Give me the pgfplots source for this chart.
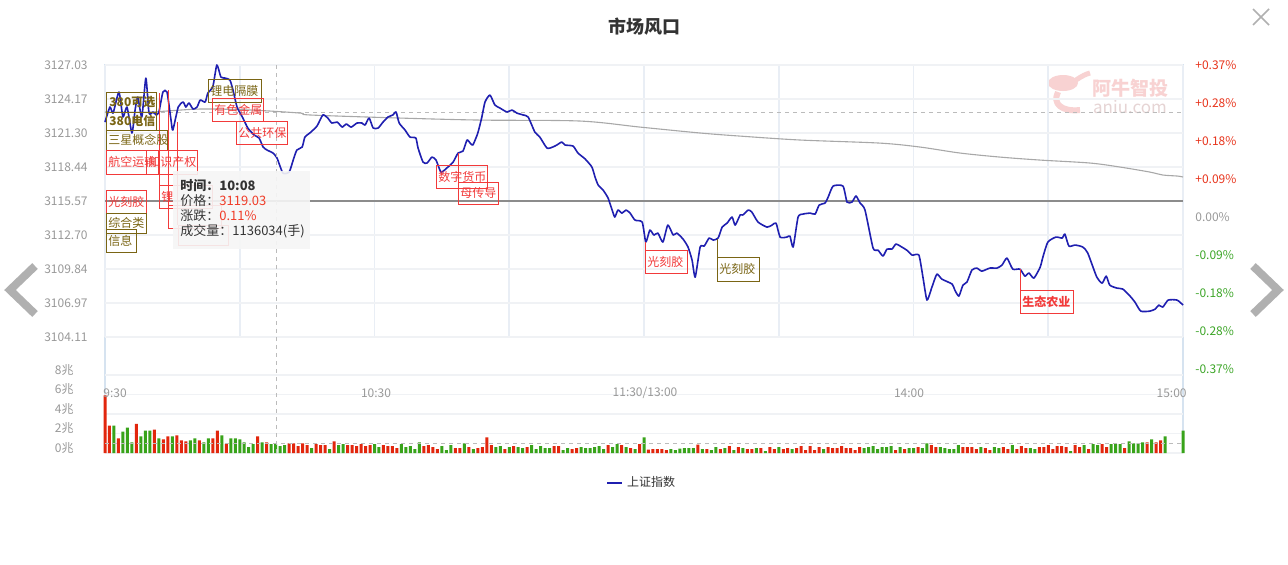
\documentclass[border=0pt]{standalone}
\usepackage{pgfplots}
\pgfplotsset{compat=1.18}
\usepackage{fontspec}
\setmainfont{Noto Sans CJK SC}
\definecolor{axistext}{HTML}{999999}
\definecolor{titlec}{HTML}{333333}
\definecolor{gridh}{HTML}{F0F2F5}
\definecolor{gridv}{HTML}{E9EEF5}
\definecolor{framec}{HTML}{D6E3F0}
\definecolor{priceblue}{HTML}{1F1FB0}
\definecolor{avgc}{HTML}{A8A8A8}
\definecolor{prevc}{HTML}{8C8C8C}
\definecolor{crossc}{HTML}{BBBBBB}
\definecolor{redbar}{HTML}{E2260D}
\definecolor{greenbar}{HTML}{38A31A}
\definecolor{annred}{HTML}{F23A3A}
\definecolor{annolive}{HTML}{7A6514}
\definecolor{posred}{HTML}{E8341C}
\definecolor{neggreen}{HTML}{3DA628}
\definecolor{tipbg}{HTML}{F6F6F6}
\definecolor{tiptext}{HTML}{333333}
\definecolor{tipred}{HTML}{F03C28}
\definecolor{wmpink}{HTML}{F8D2D2}
\definecolor{wmgray}{HTML}{E6D4D4}
\definecolor{navc}{HTML}{B0B0B0}
\newcommand\tickfont{\fontsize{6}{7}\selectfont}
\newcommand\annfont{\fontsize{6}{7}\selectfont}
\newcommand\tipfont{\fontsize{6.5}{7.5}\selectfont}
\begin{document}
\begin{tikzpicture}[x=0.5pt,y=-0.5pt]
\useasboundingbox (0,0) rectangle (1288,564);
\fill[white] (0,0) rectangle (1288,564);

% title
\node[font=\fontsize{9}{10}\selectfont\bfseries, text=titlec] at (644,27) {市场风口};

% watermark
\fill[wmpink] (1063,83) ellipse (15 and 8);
\draw[wmpink, line width=2.5pt] (1076,80) .. controls (1082,76) and (1086,74) .. (1090,73);
\draw[wmpink, line width=3pt] (1058,92) .. controls (1052,104) and (1062,112) .. (1080,110);
\node[font=\fontsize{9.5}{10}\selectfont\bfseries, text=wmpink] at (1130,88) {阿牛智投};
\node[font=\fontsize{8.5}{9}\selectfont, text=wmgray] at (1130,107) {aniu.com};

% frame
\draw[framec, line width=0.6pt] (105,453) -- (105,65) -- (1183,65) -- (1183,453);
\draw[framec, line width=1pt] (105,375) -- (1183,375);
\draw[framec, line width=0.6pt] (105,453) -- (1183,453);

% price axis
\begin{axis}[
  at={(52.5pt,-168.5pt)}, anchor=south west, scale only axis,
  width=539pt, height=136pt,
  xmin=0, xmax=240, ymin=3104.11, ymax=3127.03,
  clip=false,
  axis line style={draw=none},
  tick style={draw=none}, major tick length=0pt,
  xtick={0,30,...,240}, xticklabels={},
  ytick={3104.11,3106.97,3109.84,3112.70,3115.57,3118.44,3121.30,3124.17,3127.03},
  yticklabels={3104.11,3106.97,3109.84,3112.70,3115.57,3118.44,3121.30,3124.17,3127.03},
  yticklabel style={font=\tickfont, text=axistext, inner sep=0pt, xshift=-8.5pt},
  xmajorgrids, ymajorgrids,
  x grid style={gridv, line width=0.9pt},
  y grid style={gridh, line width=0.6pt},
  legend style={at={(0.499,-0.537)}, anchor=center, draw=none, fill=none,
    font=\tickfont, text=titlec, inner sep=0pt},
  legend cell align=left,
  legend image code/.code={\draw[#1] (0pt,0pt) -- (7.5pt,0pt);},
]
\addplot[forget plot, prevc, line width=0.6pt] coordinates {(0,3115.57) (240,3115.57)};
\addplot[forget plot, crossc, line width=0.5pt, dash pattern=on 2pt off 2pt] coordinates {(0,3123.07) (240,3123.07)};
\addplot[forget plot, avgc, line width=0.55pt, smooth] coordinates {
(0,3123.07) (10,3123.07) (21.1,3123.32) (32.3,3123.24) (43.4,3122.98) (45.6,3122.82) (65.7,3122.56) (83.5,3122.39) (105.7,3122.31) (119.1,3121.80) (132.5,3121.30) (141.4,3121.04) (154.7,3120.71) (172.5,3120.45) (181.4,3120.12) (190.4,3119.61) (199.3,3119.27) (208.2,3119.02) (219.3,3118.77) (226.0,3118.43) (232.6,3118.01) (235.5,3117.76) (238.9,3117.67) (240,3117.59)};
\addplot[priceblue, line width=0.8pt, smooth, tension=0.35, line join=round] coordinates {
(0,3122.22) (1.1,3123.49) (1.8,3122.98) (3.1,3124.75) (4.0,3122.65) (4.9,3123.49) (6.0,3121.30) (6.7,3123.24) (7.3,3124.33) (8.2,3122.65) (9.1,3125.93) (9.8,3122.98) (10.7,3123.07) (11.4,3122.82) (12.0,3123.07) (12.9,3124.75) (13.8,3124.75) (14.7,3122.39) (15.1,3121.55) (16.3,3123.49) (17.4,3123.91) (18.0,3123.49) (18.7,3123.83) (19.6,3123.32) (20.5,3123.49) (21.2,3124.08) (22.3,3123.91) (22.9,3124.67) (24.0,3125.18) (24.9,3127.03) (25.8,3126.02) (26.7,3125.93) (27.8,3125.77) (28.5,3124.92) (29.4,3123.49) (30.7,3122.56) (31.8,3121.72) (33.2,3121.13) (34.3,3120.88) (35.2,3120.12) (36.1,3119.86) (37.4,3119.61) (38.3,3119.19) (39.6,3117.93) (41.0,3118.01) (41.9,3119.02) (42.7,3119.86) (43.9,3120.12) (44.5,3120.96) (45.6,3121.30) (47.2,3121.89) (48.5,3122.82) (49.6,3122.56) (50.5,3122.14) (51.7,3122.22) (52.8,3121.80) (53.7,3122.06) (54.8,3121.80) (56.1,3122.14) (57.2,3122.14) (57.9,3121.97) (58.8,3122.56) (59.7,3121.72) (60.8,3121.72) (61.9,3122.22) (63.0,3122.65) (64.1,3122.82) (64.8,3123.07) (65.5,3122.14) (66.8,3121.55) (67.9,3120.96) (69.2,3120.88) (69.7,3120.03) (70.8,3118.85) (71.7,3118.77) (72.8,3119.27) (73.7,3119.02) (74.8,3118.01) (76.1,3118.35) (77.5,3118.85) (78.6,3119.61) (79.7,3119.78) (80.6,3120.71) (81.3,3120.45) (81.9,3120.29) (83.0,3121.30) (83.9,3122.65) (84.6,3123.91) (85.7,3124.50) (86.8,3123.66) (87.9,3123.41) (89.5,3123.07) (90.6,3123.24) (91.7,3122.98) (93.1,3122.82) (94.2,3122.65) (95.7,3121.38) (96.8,3120.96) (98.4,3120.03) (99.7,3120.12) (100.6,3120.29) (101.7,3120.54) (102.4,3120.29) (104.2,3120.20) (105.3,3119.61) (106.9,3119.11) (108.4,3118.43) (109.1,3117.59) (109.8,3116.91) (110.9,3116.49) (112.0,3115.82) (112.9,3114.81) (113.5,3114.22) (114.2,3114.81) (115.1,3114.55) (116.0,3114.81) (116.9,3114.55) (118.0,3113.96) (119.6,3113.79) (120.4,3112.11) (121.3,3113.12) (122.2,3112.70) (123.1,3112.87) (124.2,3112.11) (125.3,3113.54) (126.5,3112.70) (127.3,3112.87) (128.7,3112.36) (129.8,3111.69) (130.7,3110.59) (131.4,3109.16) (132.5,3111.69) (133.4,3111.77) (134.5,3112.45) (135.4,3112.28) (136.5,3112.45) (137.4,3113.37) (138.5,3113.71) (139.6,3114.22) (140.3,3113.54) (141.4,3114.39) (142.0,3114.39) (143.2,3114.81) (144.0,3114.64) (145.4,3113.79) (147.4,3113.37) (148.5,3113.54) (149.4,3113.71) (150.3,3112.53) (151.8,3112.53) (152.5,3112.61) (153.2,3111.69) (154.3,3114.22) (155.4,3114.47) (157.0,3114.55) (158.1,3114.47) (159.0,3115.23) (160.3,3115.40) (161.0,3115.90) (162.1,3116.83) (164.3,3116.83) (165.2,3115.48) (166.3,3115.48) (167.2,3115.99) (168.1,3115.40) (169.2,3114.81) (171.0,3111.60) (172.1,3111.43) (173.2,3110.93) (174.1,3111.52) (175.2,3111.52) (176.1,3111.94) (177.4,3111.69) (178.5,3111.43) (179.7,3111.01) (181.2,3111.01) (182.1,3109.16) (183.0,3107.22) (184.1,3108.31) (185.2,3109.41) (186.3,3108.99) (188.6,3108.57) (189.2,3108.06) (190.1,3107.56) (191.0,3108.48) (191.9,3108.74) (193.0,3109.75) (194.1,3109.92) (195.2,3109.66) (197.0,3109.92) (198.6,3109.92) (199.7,3110.17) (200.8,3110.76) (202.1,3109.83) (203.7,3109.83) (204.8,3109.24) (205.7,3109.50) (206.8,3109.07) (208.2,3110.00) (208.8,3110.84) (209.9,3112.11) (211.7,3112.53) (213.1,3112.45) (213.7,3112.78) (214.6,3111.77) (216.0,3111.86) (217.7,3111.69) (218.8,3111.18) (220.8,3109.16) (222.0,3108.65) (222.9,3109.24) (223.7,3108.48) (225.3,3108.23) (226.6,3108.15) (228.2,3107.56) (229.3,3107.05) (230.6,3106.29) (232.6,3106.29) (233.8,3106.46) (234.6,3106.80) (235.5,3106.63) (236.7,3107.22) (238.7,3107.22) (240,3106.80)};
\addlegendentry{上证指数}
\end{axis}

% right percentage axis
\begin{axis}[
  at={(52.5pt,-184.5pt)}, anchor=south west, scale only axis,
  width=539pt, height=152pt,
  xmin=0, xmax=240, ymin=-0.37, ymax=0.37,
  axis line style={draw=none},
  tick style={draw=none}, major tick length=0pt,
  xtick=\empty,
  ytick={-0.37,-0.2775,-0.185,-0.0925,0,0.0925,0.185,0.2775,0.37},
  yticklabels={{\textcolor{neggreen}{-0.37\%}},{\textcolor{neggreen}{-0.28\%}},{\textcolor{neggreen}{-0.18\%}},{\textcolor{neggreen}{-0.09\%}},{\textcolor{axistext}{0.00\%}},{\textcolor{posred}{+0.09\%}},{\textcolor{posred}{+0.18\%}},{\textcolor{posred}{+0.28\%}},{\textcolor{posred}{+0.37\%}}},
  yticklabel pos=right,
  yticklabel style={font=\tickfont, inner sep=0pt, anchor=west, xshift=6pt},
]
\addplot[draw=none, forget plot] coordinates {(0,0) (240,0)};
\end{axis}

% volume axis
\begin{axis}[
  at={(52.5pt,-226.5pt)}, anchor=south west, scale only axis,
  width=539pt, height=39pt,
  xmin=0, xmax=240, ymin=0, ymax=8,
  clip=false,
  axis line style={draw=none},
  tick style={draw=none}, major tick length=0pt,
  xtick=\empty,
  ytick={0,2,4,6,8},
  yticklabels={0兆,2兆,4兆,6兆,8兆},
  yticklabel style={font=\tickfont, text=axistext, inner sep=0pt, xshift=-15.5pt, yshift=2.5pt},
  ymajorgrids,
  y grid style={gridh, line width=0.6pt},
]
\addplot[ybar, bar width=1.5pt, bar shift=0pt, fill=redbar, draw=none] table[row sep=\\] {
x y\\
0 5.9\\ 1 2.8\\ 3 1.5\\ 7 3.0\\ 11 2.4\\ 13 1.4\\ 14 1.7\\ 16 1.8\\ 17 1.3\\ 18 1.2\\ 21 1.3\\ 24 1.5\\ 25 2.3\\ 27 0.9\\ 34 1.7\\ 36 1.1\\ 41 1.0\\ 42 1.0\\ 43 0.7\\ 44 1.0\\ 45 0.8\\ 47 0.9\\ 48 0.8\\ 49 0.8\\ 51 1.2\\ 54 0.8\\ 55 0.8\\ 56 0.7\\ 57 0.9\\ 58 0.7\\ 59 0.8\\ 62 0.8\\ 63 0.7\\ 64 0.7\\ 65 0.5\\ 71 0.7\\ 72 0.8\\ 73 0.6\\ 74 0.4\\ 78 0.5\\ 79 0.5\\ 81 0.6\\ 83 0.5\\ 84 0.6\\ 85 1.6\\ 86 0.8\\ 89 0.4\\ 91 0.7\\ 94 0.6\\ 100 0.7\\ 101 0.7\\ 104 0.4\\ 105 0.5\\ 112 0.8\\ 115 0.8\\ 117 0.5\\ 119 0.9\\
121 0.35\\ 122 0.4\\ 123 0.4\\ 124 0.4\\ 125 0.3\\ 132 0.86\\ 134 0.4\\ 137 0.4\\ 139 0.7\\ 141 0.6\\ 143 0.4\\ 144 0.4\\ 146 0.5\\ 148 0.6\\ 149 0.4\\ 151 0.4\\ 152 0.5\\ 154 0.5\\ 155 0.7\\ 156 0.3\\ 157 0.7\\ 158 0.3\\ 159 0.6\\ 161 0.6\\ 162 0.5\\ 163 0.5\\ 164 0.7\\ 165 0.5\\ 166 0.5\\ 167 0.3\\ 168 0.6\\ 176 0.3\\ 178 0.4\\ 181 0.6\\ 184 0.8\\ 185 0.6\\ 191 0.6\\ 192 0.6\\ 193 0.6\\ 194 0.4\\ 196 0.5\\ 197 0.3\\ 200 0.6\\ 201 0.4\\ 203 0.4\\ 204 0.7\\ 205 0.5\\ 208 0.6\\ 209 0.6\\ 210 0.8\\ 211 0.4\\ 212 0.7\\ 213 0.7\\ 214 0.6\\ 216 0.8\\ 217 0.6\\ 219 0.4\\ 222 0.9\\ 223 0.6\\ 227 0.5\\ 232 1.1\\ 234 1.1\\ 235 1.3\\
};
\addplot[ybar, bar width=1.5pt, bar shift=0pt, fill=greenbar, draw=none] table[row sep=\\] {
x y\\
2 2.8\\ 4 2.2\\ 5 2.6\\ 6 1.1\\ 8 1.7\\ 9 2.3\\ 10 2.3\\ 12 1.5\\ 15 1.7\\ 19 1.3\\ 20 1.5\\ 22 1.1\\ 23 1.5\\ 26 1.8\\ 28 1.5\\ 29 1.5\\ 30 1.4\\ 31 1.1\\ 32 0.6\\ 33 0.9\\ 35 1.1\\ 37 0.9\\ 38 0.9\\ 39 0.7\\ 40 0.8\\ 46 0.5\\ 50 0.4\\ 52 0.8\\ 53 0.9\\ 60 0.9\\ 61 0.6\\ 66 0.9\\ 67 0.6\\ 68 0.7\\ 69 0.4\\ 70 1.1\\ 75 0.7\\ 76 0.3\\ 77 0.8\\ 80 1.0\\ 82 0.4\\ 87 0.6\\ 88 0.7\\ 90 0.6\\ 92 0.6\\ 93 0.5\\ 95 0.8\\ 96 0.4\\ 97 0.7\\ 98 0.5\\ 99 0.5\\ 102 0.3\\ 103 0.5\\ 106 0.6\\ 107 0.5\\ 108 0.5\\ 109 0.6\\ 110 0.7\\ 111 0.4\\ 113 0.6\\ 114 0.9\\ 116 0.6\\ 118 0.4\\ 120 1.6\\
126 0.4\\ 127 0.3\\ 128 0.45\\ 129 0.5\\ 130 0.5\\ 131 0.5\\ 133 0.4\\ 135 0.3\\ 136 0.6\\ 138 0.5\\ 140 0.3\\ 142 0.5\\ 145 0.5\\ 147 0.2\\ 150 0.6\\ 153 0.4\\ 160 0.4\\ 169 0.5\\ 170 0.6\\ 171 0.7\\ 172 0.4\\ 173 0.6\\ 174 0.6\\ 175 0.7\\ 177 0.6\\ 179 0.5\\ 180 0.5\\ 182 0.5\\ 183 1.0\\ 186 0.6\\ 187 0.5\\ 188 0.4\\ 189 0.4\\ 190 0.8\\ 195 0.6\\ 198 0.6\\ 199 0.5\\ 202 0.8\\ 206 0.5\\ 207 0.4\\ 215 0.2\\ 218 0.8\\ 220 0.9\\ 221 0.8\\ 224 0.9\\ 225 0.9\\ 226 0.9\\ 228 1.2\\ 229 1.0\\ 230 1.0\\ 231 1.1\\ 233 1.4\\ 236 1.7\\ 240 2.3\\
};
\addplot[crossc, line width=0.5pt, dash pattern=on 2pt off 2pt] coordinates {(0,1.0) (240,1.0)};
\end{axis}

% time labels
\node[font=\tickfont, text=axistext, anchor=west, inner sep=0pt] at (103,393) {9:30};
\node[font=\tickfont, text=axistext, inner sep=0pt] at (376,393) {10:30};
\node[font=\tickfont, text=axistext, inner sep=0pt] at (645,393) {11:30/13:00};
\node[font=\tickfont, text=axistext, inner sep=0pt] at (909,393) {14:00};
\node[font=\tickfont, text=axistext, anchor=east, inner sep=0pt] at (1187,393) {15:00};

% crosshair vertical
\draw[crossc, line width=0.5pt, dash pattern=on 2pt off 2pt] (276,65) -- (276,453);

% annotation connectors
\draw[annred, line width=0.5pt] (159,93) -- (159,185);
\draw[annred, line width=0.5pt] (168,90) -- (168,205);
\draw[annred, line width=0.5pt] (177.5,122) -- (177.5,225);
\draw[annred, line width=0.5pt] (458,153) -- (458,182);
\draw[annred, line width=0.5pt] (645,242) -- (645,250);
\draw[annolive, line width=0.5pt] (717,239) -- (717,257);
\draw[annred, line width=0.5pt] (1020,269) -- (1020,290);

% annotation boxes
\tikzset{ann/.style={font=\annfont, anchor=west, inner sep=0pt}}
\draw[annolive, line width=0.5pt] (106,92) rectangle (156,112);
\node[ann, text=annolive, font=\annfont\bfseries] at (109,102) {380可选};
\draw[annolive, line width=0.5pt] (106,112) rectangle (156,130);
\node[ann, text=annolive, font=\annfont\bfseries] at (109,121) {380电信};
\draw[annolive, line width=0.5pt] (106,130) rectangle (167,150);
\node[ann, text=annolive] at (108,140) {三星概念股};
\draw[annred, line width=0.5pt] (106,150) rectangle (158,174);
\node[ann, text=annred] at (108,162) {航空运输};
\draw[annred, line width=0.5pt] (146,150) rectangle (197,174);
\node[ann, text=annred] at (148,162) {知识产权};
\draw[annred, line width=0.5pt] (106,190) rectangle (146,213);
\node[ann, text=annred] at (108,201.5) {光刻胶};
\draw[annolive, line width=0.5pt] (106,213) rectangle (146,233);
\node[ann, text=annolive] at (108,223) {综合类};
\draw[annolive, line width=0.5pt] (106,229) rectangle (136,252);
\node[ann, text=annolive] at (108,240.5) {信息};
\draw[annolive, line width=0.5pt] (208,79) rectangle (261,102);
\node[ann, text=annolive] at (210,90.5) {锂电隔膜};
\draw[annred, line width=0.5pt] (212,98) rectangle (263,121);
\node[ann, text=annred] at (214,109.5) {有色金属};
\draw[annred, line width=0.5pt] (236,121) rectangle (287,144);
\node[ann, text=annred] at (238,132.5) {公共环保};
\draw[annred, line width=0.5pt] (436,165) rectangle (487,188);
\node[ann, text=annred] at (438,176.5) {数字货币};
\draw[annred, line width=0.5pt] (458,182) rectangle (498,204);
\node[ann, text=annred] at (460,193) {母传导};
\draw[annred, line width=0.5pt] (645,250) rectangle (687,273);
\node[ann, text=annred] at (647,261.5) {光刻胶};
\draw[annolive, line width=0.5pt] (717,257) rectangle (759,281);
\node[ann, text=annolive] at (719,269) {光刻胶};
\draw[annred, line width=0.5pt] (1020,290) rectangle (1073,313);
\node[ann, text=annred, font=\annfont\bfseries] at (1022,301.5) {生态农业};
\draw[annred, line width=0.5pt] (159,185) rectangle (212,208);
\node[ann, text=annred] at (161,196.5) {锂};
\draw[annred, line width=0.5pt] (168,205) rectangle (221,228);
\draw[annred, line width=0.5pt] (178,225) rectangle (228,245);

% tooltip
\fill[tipbg, opacity=0.9] (173,171) rectangle (310,249);
\node[font=\tipfont\bfseries, text=tiptext, anchor=west, inner sep=0pt] at (180,186) {时间：10:08};
\node[font=\tipfont, text=tiptext, anchor=west, inner sep=0pt] at (180,201) {价格：\textcolor{tipred}{3119.03}};
\node[font=\tipfont, text=tiptext, anchor=west, inner sep=0pt] at (180,216) {涨跌：\textcolor{tipred}{0.11\%}};
\node[font=\tipfont, text=tiptext, anchor=west, inner sep=0pt] at (180,231) {成交量：1136034(手)};

% navigation
\draw[navc, line width=4pt, line join=miter] (35,266) -- (10,290) -- (35,314);
\draw[navc, line width=4pt, line join=miter] (1253,266) -- (1278,290) -- (1253,314);
\draw[navc, line width=0.8pt] (1253,9) -- (1269,25) (1269,9) -- (1253,25);
\end{tikzpicture}
\end{document}
